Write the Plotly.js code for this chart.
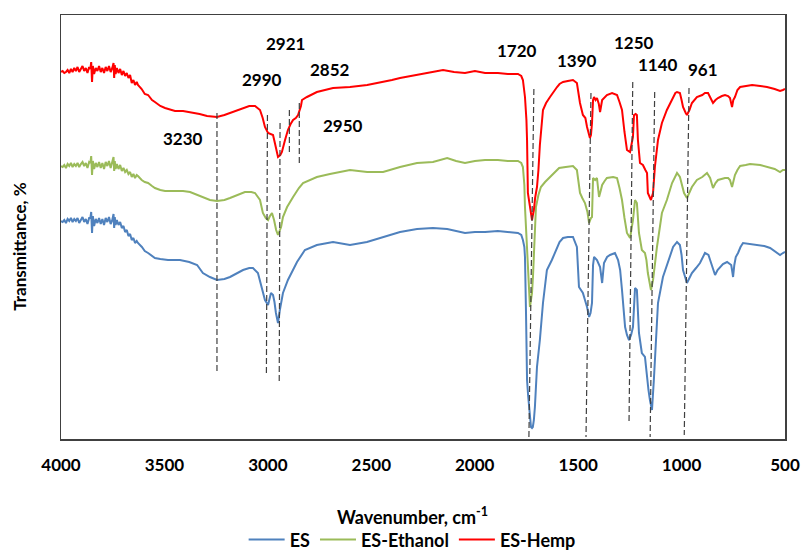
<!DOCTYPE html>
<html>
<head>
<meta charset="utf-8">
<script src="https://cdn.plot.ly/plotly-3.0.1.min.js"></script>
<style>html,body{margin:0;padding:0;background:#fff;}#chart{width:802px;height:554px;}</style>
</head>
<body>
<div id="chart"></div>
<script>
// ---- Data (wavenumber cm-1, transmittance in arbitrary stacked units) ----
const hempWn = [
4000,3992,3984,3976,3968,3960,3952,3944,3936,3928,
3920,3912,3904,3896,3888,3880,3872,3864,3858,3854,
3850,3846,3840,3832,3824,3816,3808,3800,3792,3784,
3776,3768,3760,3752,3746,3743,3740,3736,3730,3722,
3714,3706,3698,3690,3682,3674,3666,3658,3650,3642,
3634,3628,
3610,3595,3579,3560,3546,3520,
3497,3470,3449,3410,3376,3330,3294,3246,3210,3183,
3150,3120,3090,3062,3038,3025,3014,2999,2985,2975,
2965,2956,2951,2940,2932,2917,2903,2890,2878,2865,
2854,2840,2835,2811,2763,2685,2603,2520,2443,2400,
2361,2279,2202,2153,2100,2047,1999,1950,1888,1840,
1791,1775,1767,1757,1750,1747,1743,1738,1733,1728,
1723,1718,1714,1708,1699,1692,1685,1670,1655,1636,
1620,1602,1590,1573,1550,1525,1506,1498,1491,1477,
1465,1457,1443,1438,1433,1428,1423,1416,1409,1400,
1394,1384,1372,1361,1336,1325,1312,1300,1288,1276,
1264,1249,1242,1235,1230,1222,1216,1211,1201,1187,
1175,1167,1163,1155,1148,1138,1129,1114,1095,1071,
1046,1030,1022,1008,1000,993,980,974,962,950,
926,900,887,872,860,848,836,824,805,790,
775,766,756,750,742,730,717,690,659,620,
587,550,524,510,500];
const hempT = [
368,369,367,368,370,367,371,368,372,369,
373,368,371,374,369,372,367,373,371,378,
358,374,366,372,369,374,368,372,367,373,
369,374,368,372,377,362,375,366,372,367,
371,365,369,364,367,362,365,357,360,355,
358,355,
351,346,345,340,338,334,
332,330,329,329,328,326,324,323,325,327,
330,332,334,334,330,322,313,307,306,305,
296,287,283,285,288,300,310,316,320,322,
325,334,340,343,348,352,353,355,358,360,
362,365,368,370,368,367,369,367,367,366,
366,364,360,343,320,300,247,240,233,225,
220,226,230,242,253,270,295,330,337,343,
348,353,356,358,359,360,357,345,337,325,
322,313,302,305,317,340,343,340,342,336,
328,340,343,345,347,346,345,338,330,308,
290,288,295,303,325,326,325,300,277,275,
270,267,247,242,240,247,273,300,317,330,
340,347,348,347,340,333,327,325,330,337,
343,345,347,347,342,337,340,342,344,345,
344,342,333,340,343,350,353,354,355,354,
353,351,349,350,351];

const ethWn = [
4000,3992,3984,3976,3968,3960,3952,3944,3936,3928,
3920,3912,3904,3896,3888,3880,3872,3864,3858,3854,
3850,3846,3840,3832,3824,3816,3808,3800,3792,3784,
3776,3768,3760,3752,3746,3743,3740,3736,3730,3722,
3714,3706,3698,3690,3682,3674,3666,3658,3650,3642,
3634,3628,
3610,3595,3579,3560,3546,3520,
3497,3470,3449,3410,3376,3340,3310,3280,3246,3210,
3183,3150,3111,3080,3062,3038,3024,3010,2999,2990,
2980,2970,2960,2951,2936,2927,2907,2878,2850,2830,
2800,2763,2700,2603,2520,2443,2361,2279,2202,2133,
2090,2047,1999,1950,1888,1840,1791,1775,1767,1760,
1757,1752,1747,1743,1738,1733,1728,1723,1718,1713,
1704,1692,1680,1660,1636,1615,1592,1560,1525,1506,
1498,1491,1480,1467,1455,1447,1438,1433,1428,1418,
1409,1399,1390,1384,1372,1361,1331,1312,1300,1288,
1276,1264,1249,1242,1235,1225,1216,1206,1192,1177,
1170,1163,1155,1148,1138,1130,1119,1095,1071,1046,
1022,1008,998,988,974,962,950,926,900,877,
862,848,836,824,805,790,775,766,756,750,
742,730,717,690,669,620,587,550,524,510,
500];
const ethT = [
274,273,275,272,276,274,277,273,276,274,
277,273,276,278,274,277,272,278,277,284,
265,279,271,277,273,278,272,277,271,278,
274,279,272,277,283,269,279,271,276,271,
275,269,272,268,270,266,268,263,266,262,
265,264,
260,258,257,254,252,250,
249,249,249,249,248,245,242,240,239,240,
242,245,248,248,247,240,227,222,220,224,
227,220,210,205,213,223,233,243,252,257,
260,263,266,270,268,268,273,277,278,282,
279,277,279,280,280,279,279,277,273,255,
233,210,187,173,150,133,140,147,165,187,
233,245,253,258,263,268,272,273,274,270,
258,247,242,237,228,217,222,223,262,260,
262,243,250,255,259,262,263,262,252,240,
222,207,202,210,220,240,237,207,190,187,
180,167,157,150,160,175,193,227,240,257,
267,263,255,247,242,247,253,260,263,267,
262,252,257,260,261,262,262,260,253,260,
265,270,274,275,276,275,273,271,268,270,
270];

const esWn = [
4000,3992,3984,3976,3968,3960,3952,3944,3936,3928,
3920,3912,3904,3896,3888,3880,3872,3864,3858,3854,
3850,3846,3840,3832,3824,3816,3808,3800,3792,3784,
3776,3768,3760,3752,3746,3743,3740,3736,3730,3722,
3714,3706,3698,3690,3682,3674,3666,3658,3650,3642,
3634,3628,
3609,3595,3579,3560,3546,3520,
3483,3450,3425,3380,3342,3314,3280,3246,3210,3183,
3150,3120,3090,3072,3048,3029,3014,2999,2990,2985,
2975,2968,2961,2951,2942,2927,2903,2880,2859,2821,
2763,2685,2603,2521,2443,2361,2279,2202,2133,2090,
2047,1999,1950,1888,1840,1791,1775,1767,1760,1757,
1752,1747,1742,1738,1733,1728,1723,1719,1714,1709,
1699,1685,1670,1651,1627,1602,1590,1573,1550,1525,
1506,1496,1486,1477,1467,1457,1447,1440,1433,1428,
1423,1409,1394,1384,1375,1360,1346,1322,1307,1297,
1288,1273,1264,1254,1244,1235,1225,1216,1206,1192,
1177,1167,1160,1153,1143,1134,1124,1114,1090,1066,
1041,1022,1008,1000,993,974,960,950,930,911,
887,870,862,850,838,826,814,800,780,760,
756,751,745,738,727,715,703,670,635,600,
572,550,524,510,500];
const esT = [
219,218,220,217,221,219,222,218,221,219,
222,217,220,223,218,221,216,222,222,228,
207,224,214,221,217,222,216,221,215,222,
218,223,216,220,226,212,223,215,220,215,
218,212,214,208,210,204,206,200,202,197,
199,197,
193,189,187,184,182,181,
180,180,180,178,175,167,163,160,161,163,
167,170,172,172,167,153,140,135,142,147,
145,138,127,117,130,147,160,170,178,190,
195,198,195,198,203,208,211,212,211,209,
207,208,208,209,208,207,205,200,193,183,
127,60,45,33,20,13,12,13,20,33,
73,100,137,170,180,193,198,202,203,203,
193,153,150,147,140,133,123,127,137,175,
183,180,173,157,177,183,185,187,180,170,
150,113,105,100,105,113,152,150,107,87,
83,60,50,40,30,60,107,137,163,177,
193,198,195,185,170,157,162,167,172,177,
187,185,180,172,165,170,173,176,178,175,
170,163,175,183,187,193,197,196,195,194,
192,189,185,187,188];

// Dashed peak guide lines (top end / bottom end) and peak labels
const guideWnTop = [3246, 3002, 2941, 2896, 2848, 1714, 1438, 1236, 1130, 964];
const guideTTop  = [327, 325, 317, 330, 337, 351, 347, 358, 348, 352];
const guideWnBot = [3246, 3007, 2945, 2896, 2848, 1738, 1462, 1254, 1152, 987];
const guideTBot  = [68, 67, 58, 285, 277, 3, 3, 18, 3, 5];

const peakLabels = ["3230", "2990", "2921", "2852", "2950", "1720", "1390", "1250", "1140", "961"];
const labelWn    = [3410, 3028, 2917, 2700, 2637, 1796, 1506, 1230, 1114, 897];
const labelT     = [302, 361, 397, 371, 315, 390, 380, 398, 376, 371];

const xTicks = [4000, 3500, 3000, 2500, 2000, 1500, 1000, 500];
const seriesNames = ["ES", "ES-Ethanol", "ES-Hemp"];
const seriesColors = ["#4F81BD", "#9BBB59", "#FF0000"];

const FONT = "Lato, 'Open Sans', sans-serif";

const traces = [
  {x: esWn, y: esT},
  {x: ethWn, y: ethT},
  {x: hempWn, y: hempT}
].map((d, i) => ({
  type: "scatter", mode: "lines", x: d.x, y: d.y, name: seriesNames[i],
  line: {color: seriesColors[i], width: 2}
}));

const shapes = guideWnTop.map((w, i) => ({
  type: "line", xref: "x", yref: "y",
  x0: w, y0: guideTTop[i], x1: guideWnBot[i], y1: guideTBot[i],
  line: {color: "#404040", width: 1.2, dash: "6px,3px"}
}));

const annotations = peakLabels.map((t, i) => ({
  text: t, xref: "x", yref: "y", x: labelWn[i], y: labelT[i],
  showarrow: false, font: {family: FONT, size: 17, color: "#000", weight: "bold"}
}));
annotations.push({
  text: "Wavenumber, cm<sup>-1</sup>", xref: "paper", yref: "paper",
  x: 0.485, y: -0.182, showarrow: false, xanchor: "center", yanchor: "middle",
  font: {family: FONT, size: 18, color: "#000", weight: "bold"}
});
annotations.push({
  text: "Transmittance, %", xref: "paper", yref: "paper", textangle: -90,
  x: -0.057, y: 0.453, showarrow: false, xanchor: "center", yanchor: "middle",
  font: {family: FONT, size: 17, color: "#000", weight: "bold"}
});

const layout = {
  width: 802, height: 554,
  margin: {l: 61, r: 17, t: 15, b: 115, autoexpand: false},
  paper_bgcolor: "#fff", plot_bgcolor: "#fff",
  showlegend: true,
  legend: {orientation: "h", x: 0.485, xanchor: "center", y: -0.238, yanchor: "middle",
           font: {family: FONT, size: 18, color: "#000", weight: "bold"}, traceorder: "normal",
           itemwidth: 36, tracegroupgap: 0},
  xaxis: {range: [4000, 500], tickvals: xTicks, ticktext: xTicks.map(String),
          showgrid: false, zeroline: false, showline: true, mirror: true,
          linecolor: "#404040", linewidth: 1.5,
          ticks: "outside", ticklen: 10, tickcolor: "rgba(0,0,0,0)",
          tickfont: {family: FONT, size: 17, color: "#000", weight: "bold"}},
  yaxis: {range: [1, 425], showticklabels: false, showgrid: false, zeroline: false,
          showline: true, mirror: true, linecolor: "#404040", linewidth: 1.5, ticks: ""},
  shapes: shapes,
  annotations: annotations
};

Plotly.newPlot("chart", traces, layout, {staticPlot: true, displayModeBar: false});
</script>
</body>
</html>
